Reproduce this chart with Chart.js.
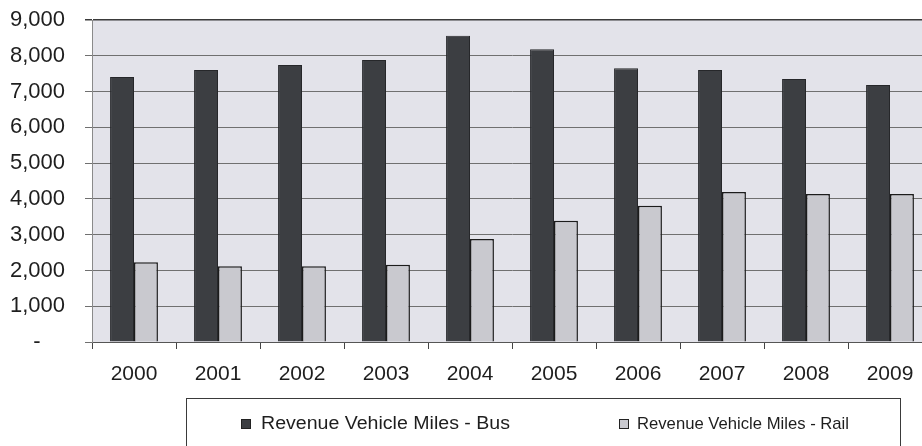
<!DOCTYPE html>
<html>
<head>
<meta charset="utf-8">
<script src="https://cdn.jsdelivr.net/npm/chart.js@4.4.0/dist/chart.umd.min.js"></script>
<style>
    html, body { margin: 0; padding: 0; background: #ffffff; overflow: hidden; }
    #wrap { width: 940px; height: 446px; }
</style>
</head>
<body>
<div id="wrap"><canvas id="chart" width="940" height="446"></canvas></div>
<script>
// Dados do gráfico
const anos = ['2000', '2001', '2002', '2003', '2004', '2005', '2006', '2007', '2008', '2009'];
const milhasOnibus = [7410, 7600, 7740, 7880, 8560, 8180, 7650, 7600, 7350, 7180];
const milhasTrilho = [2230, 2120, 2120, 2160, 2880, 3390, 3810, 4190, 4140, 4140];
const rotulosSeries = ['Revenue Vehicle Miles - Bus', 'Revenue Vehicle Miles - Rail'];
const yTicks = [0, 1000, 2000, 3000, 4000, 5000, 6000, 7000, 8000, 9000];

// Fundo cinza da área de plotagem
const fundoPlot = {
    id: 'fundoPlot',
    beforeDraw(chart) {
        const { ctx, chartArea: a } = chart;
        ctx.save();
        ctx.fillStyle = '#e3e3ea';
        ctx.fillRect(a.left, a.top, a.right - a.left, a.bottom - a.top);
        ctx.restore();
    }
};

// Legenda desenhada numa caixa abaixo do eixo
const legendaCaixa = {
    id: 'legendaCaixa',
    afterDraw(chart) {
        const ctx = chart.ctx;
        const ds = chart.data.datasets;
        ctx.save();
        ctx.strokeStyle = '#3a3a3a';
        ctx.lineWidth = 1;
        ctx.strokeRect(186.5, 398.5, 714, 80);

        const itens = [
            { x: 241, textX: 261, width: 249, size: 18 },
            { x: 619, textX: 637, width: 212, size: 17 }
        ];
        itens.forEach((it, i) => {
            const y = 424;
            ctx.fillStyle = ds[i].backgroundColor;
            ctx.strokeStyle = '#222';
            ctx.fillRect(it.x, y - 5, 10, 10);
            ctx.strokeRect(it.x + 0.5, y - 4.5, 9, 9);
            ctx.fillStyle = '#1e1e1e';
            ctx.font = it.size + 'px "Liberation Sans", Arial, sans-serif';
            ctx.textBaseline = 'middle';
            const w = ctx.measureText(ds[i].label).width;
            ctx.save();
            ctx.translate(it.textX, y);
            ctx.scale(it.width / w, 1);
            ctx.fillText(ds[i].label, 0, 0);
            ctx.restore();
        });
        ctx.restore();
    }
};

const ctx = document.getElementById('chart').getContext('2d');
new Chart(ctx, {
    type: 'bar',
    data: {
        labels: anos,
        datasets: [{
            label: rotulosSeries[0],
            data: milhasOnibus,
            backgroundColor: '#3c3e42',
            borderColor: '#26272a',
            borderWidth: 1,
            categoryPercentage: 0.57,
            barPercentage: 1.0
        }, {
            label: rotulosSeries[1],
            data: milhasTrilho,
            backgroundColor: '#c9c9cf',
            borderColor: '#1c1c1c',
            borderWidth: 1.5,
            categoryPercentage: 0.57,
            barPercentage: 1.0
        }]
    },
    options: {
        responsive: false,
        animation: false,
        layout: { padding: { top: 20, right: 8, left: 0, bottom: 0 } },
        plugins: {
            legend: { display: false },
            tooltip: { enabled: false }
        },
        scales: {
            x: {
                offset: true,
                grid: {
                    offset: true,
                    drawOnChartArea: false,
                    drawTicks: true,
                    tickLength: 7,
                    color: '#444'
                },
                border: { display: true, color: '#555', width: 1 },
                ticks: {
                    color: '#1e1e1e',
                    padding: 13,
                    maxRotation: 0,
                    font: { family: '"Liberation Sans", Arial, sans-serif', size: 21 }
                },
                afterFit(scale) { scale.height = 104; }
            },
            y: {
                min: 0,
                max: 9000,
                afterBuildTicks(scale) {
                    scale.ticks = yTicks.map(v => ({ value: v }));
                },
                grid: {
                    color: c => (c.tick && c.tick.value === 9000) ? '#3a3a3a' : '#707070',
                    lineWidth: c => (c.tick && c.tick.value === 9000) ? 1.5 : 1,
                    tickLength: 7
                },
                border: { display: true, color: '#8a8a8a', width: 1 },
                ticks: {
                    color: '#1e1e1e',
                    padding: 20,
                    font: { family: '"Liberation Sans", Arial, sans-serif', size: 22 },
                    callback: v => v === 0 ? '-    ' : v.toLocaleString('en-US')
                },
                afterFit(scale) {
                    scale.width = 92;
                    scale.paddingTop = 0;
                    scale.paddingBottom = 0;
                }
            }
        }
    },
    plugins: [fundoPlot, legendaCaixa]
});
</script>
</body>
</html>
